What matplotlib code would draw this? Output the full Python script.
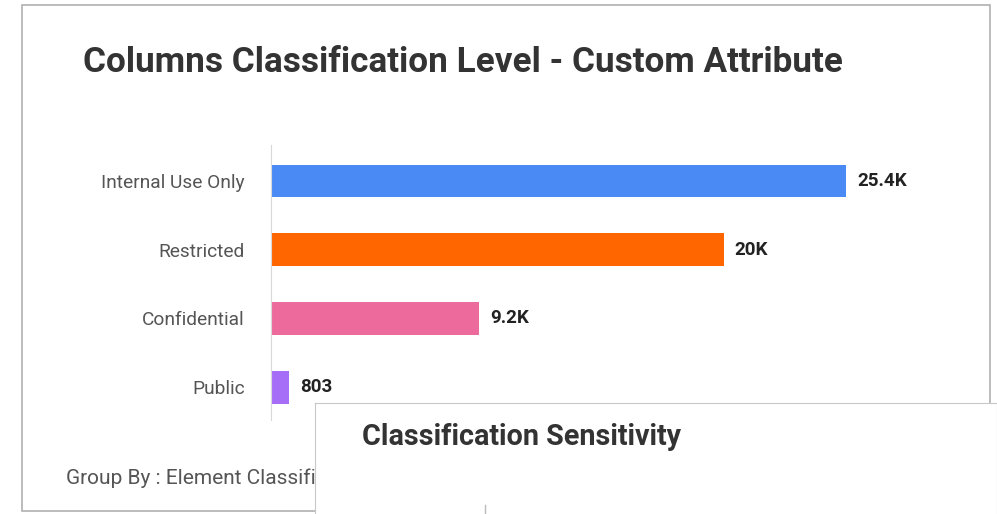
import matplotlib.pyplot as plt
from matplotlib.patches import Rectangle

categories = ['Internal Use Only', 'Restricted', 'Confidential', 'Public']
values = [25400, 20000, 9200, 803]
value_labels = ['25.4K', '20K', '9.2K', '803']
colors = ['#4a8af4', '#ff6600', '#ec6a9c', '#a66ef6']

W, H = 997, 514


def box(x0, y0, x1, y1):
    # pixel box (top-left origin) -> figure fraction [l, b, w, h]
    return [x0 / W, 1 - y1 / H, (x1 - x0) / W, (y1 - y0) / H]


plt.rcParams['font.family'] = ['Roboto', 'DejaVu Sans']

fig = plt.figure(figsize=(W / 100, H / 100), dpi=100)
fig.patch.set_facecolor('white')

# main card
l, b, w, h = box(22, 5, 990, 511)
fig.patches.append(Rectangle((l, b), w, h, transform=fig.transFigure,
                             facecolor='none', edgecolor='#b0b0b0',
                             linewidth=1.2, zorder=-1))

fig.text(83 / W, 1 - 62 / H, 'Columns Classification Level - Custom Attribute',
         fontsize=25.3, fontweight='bold', color='#333333', va='center', ha='left')

ax = fig.add_axes(box(271, 145, 960, 420))
ax.barh(range(len(categories)), values, height=0.48, color=colors)
ax.set_xlim(0, 30433)
ax.set_ylim(3.48, -0.524)
ax.set_yticks(range(len(categories)))
ax.set_yticklabels(categories, fontsize=13.8, color='#555555')
ax.tick_params(axis='y', length=0, pad=19)
ax.set_xticks([])
for s in ['top', 'right', 'bottom']:
    ax.spines[s].set_visible(False)
ax.spines['left'].set_color('#d8d8d8')
ax.patch.set_alpha(0)

for i, (v, lab) in enumerate(zip(values, value_labels)):
    ax.text(v + 480, i, lab, va='center', ha='left', fontsize=13.5,
            fontweight='bold', color='#222222')

fig.text(66 / W, 1 - 478 / H, 'Group By : Element Classification',
         fontsize=15, color='#555555', va='center', ha='left', zorder=3)

# overlapping second card
ov = fig.add_axes(box(315, 403, 997, 514))
ov.set_zorder(10)
ov.set_facecolor('white')
ov.set_xticks([])
ov.set_yticks([])
for s in ov.spines.values():
    s.set_color('#c8c8c8')
ov.spines['bottom'].set_visible(False)
ov.text((362 - 315) / (997 - 315), 1 - (437 - 403) / (514 - 403),
        'Classification Sensitivity', transform=ov.transAxes,
        fontsize=20.7, fontweight='bold', color='#333333', va='center', ha='left')
ov.plot([(485 - 315) / (997 - 315)] * 2, [0, 0.08], transform=ov.transAxes,
        color='#bbbbbb', linewidth=1)

fig.savefig('out.png', dpi=100)
